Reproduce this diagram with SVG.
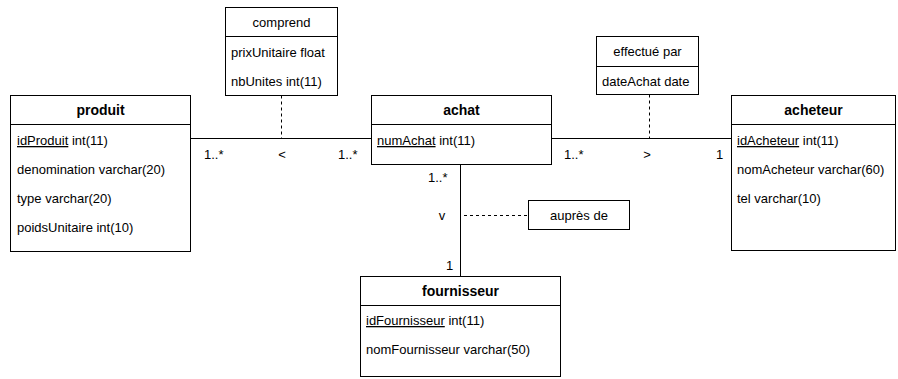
<svg xmlns="http://www.w3.org/2000/svg" width="898" height="379" viewBox="0 0 898 379">
<style>
text{font-family:"Liberation Sans",Arial,Helvetica,sans-serif;font-size:13px;fill:#000}
.t{font-weight:bold;font-size:14px;text-anchor:middle}
.c{text-anchor:middle}
.box{fill:#fff;stroke:#000;stroke-width:1}
.sep{stroke:#000;stroke-width:1}
.ln{fill:none;stroke:#000;stroke-width:1}
.dash{fill:none;stroke:#000;stroke-width:1;stroke-dasharray:3 3}
.u{text-decoration:underline}
</style>
<rect width="898" height="379" fill="#fff"/>
<g id="connectors">
<path class="ln" d="M190.5 138.5H371.5"/>
<path class="ln" d="M551.5 138.5H731.5"/>
<path class="ln" d="M460.5 164.5V276.5"/>
<path class="dash" d="M281.5 95.5V138.5"/>
<path class="dash" d="M649.5 94.5V138.5"/>
<path class="dash" d="M464 215.5H528.5"/>
<text x="204" y="159">1..*</text>
<text x="282" y="159" class="c">&lt;</text>
<text x="338" y="159">1..*</text>
<text x="564" y="159">1..*</text>
<text x="647" y="159" class="c">&gt;</text>
<text x="716" y="159">1</text>
<text x="428" y="182">1..*</text>
<text x="442" y="220" class="c">v</text>
<text x="446" y="270">1</text>
</g>
<g id="produit">
<rect class="box" x="10.5" y="95.5" width="180" height="156"/>
<path class="sep" d="M10.5 124.5H190.5"/>
<text x="100.5" y="115" class="t">produit</text>
<text x="17" y="145"><tspan class="u">idProduit</tspan> int(11)</text>
<text x="17" y="174">denomination varchar(20)</text>
<text x="17" y="203">type varchar(20)</text>
<text x="17" y="232">poidsUnitaire int(10)</text>
</g>
<g id="achat">
<rect class="box" x="371.5" y="95.5" width="180" height="69"/>
<path class="sep" d="M371.5 124.5H551.5"/>
<text x="461.5" y="115" class="t">achat</text>
<text x="377" y="145"><tspan class="u">numAchat</tspan> int(11)</text>
</g>
<g id="acheteur">
<rect class="box" x="731.5" y="95.5" width="164" height="155"/>
<path class="sep" d="M731.5 124.5H895.5"/>
<text x="813.5" y="115" class="t">acheteur</text>
<text x="737" y="145"><tspan class="u">idAcheteur</tspan> int(11)</text>
<text x="737" y="174">nomAcheteur varchar(60)</text>
<text x="737" y="203">tel varchar(10)</text>
</g>
<g id="fournisseur">
<rect class="box" x="360.5" y="276.5" width="200" height="100"/>
<path class="sep" d="M360.5 305.5H560.5"/>
<text x="460.5" y="296" class="t">fournisseur</text>
<text x="366" y="325"><tspan class="u">idFournisseur</tspan> int(11)</text>
<text x="366" y="354">nomFournisseur varchar(50)</text>
</g>
<g id="comprend">
<rect class="box" x="225.5" y="7.5" width="112" height="88"/>
<path class="sep" d="M225.5 36.5H337.5"/>
<text x="281.5" y="27" class="c">comprend</text>
<text x="231" y="57">prixUnitaire float</text>
<text x="231" y="86">nbUnites int(11)</text>
</g>
<g id="effectue-par">
<rect class="box" x="596.5" y="36.5" width="102" height="58"/>
<path class="sep" d="M596.5 66.5H698.5"/>
<text x="647.5" y="56" class="c">effectué par</text>
<text x="602" y="86">dateAchat date</text>
</g>
<g id="aupres-de">
<rect class="box" x="528.5" y="200.5" width="101" height="29"/>
<text x="579" y="220" class="c">auprès de</text>
</g>
</svg>
